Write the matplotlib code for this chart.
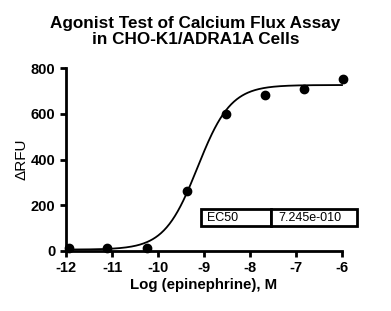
import numpy as np
import matplotlib
matplotlib.use('Agg')
import matplotlib.pyplot as plt

plt.rcParams['font.family'] = ['Liberation Sans', 'DejaVu Sans']
plt.rcParams['axes.unicode_minus'] = False

# measured points
log_conc = [-11.93, -11.1, -10.24, -9.37, -8.52, -7.67, -6.83, -5.98]
rfu = [15, 12, 15, 262, 600, 682, 708, 752]

# fit parameters (4PL)
bottom = 6
top = 726
log_ec50 = np.log10(7.245e-10)
hill = 1.2

fig = plt.figure(figsize=(3.91, 3.11), dpi=100)
ax = fig.add_axes([0.1688, 0.193, 0.7059, 0.588])

xf = np.linspace(-12, -6, 300)
yf = bottom + (top - bottom) / (1 + 10 ** ((log_ec50 - xf) * hill))
ax.plot(xf, yf, color='black', lw=1.3, clip_on=False)
ax.plot(log_conc, rfu, 'o', color='black', ms=6, clip_on=False, zorder=3)

ax.set_xlim(-12, -6)
ax.set_ylim(0, 800)
ax.set_xticks(range(-12, -5))
ax.set_yticks(range(0, 801, 200))
for s in ['top', 'right']:
    ax.spines[s].set_visible(False)
for s in ['left', 'bottom']:
    ax.spines[s].set_linewidth(2)
ax.tick_params(width=2, length=4.5, labelsize=10.5, pad=3)
for lab in ax.get_xticklabels() + ax.get_yticklabels():
    lab.set_fontweight('bold')

ax.set_xlabel('Log (epinephrine), M', fontsize=10.8, fontweight='bold', labelpad=2)
ax.set_ylabel('ΔRFU', fontsize=11, labelpad=2)
fig.suptitle('Agonist Test of Calcium Flux Assay\nin CHO-K1/ADRA1A Cells',
             fontsize=12.3, fontweight='bold', y=0.95, linespacing=1.15)

tbl = ax.table(cellText=[['EC50', '7.245e-010']], cellLoc='left',
               bbox=[(201 - 66) / 276, (251 - 226) / 183, (357 - 201) / 276, 17 / 183])
for (r, c), cell in tbl.get_celld().items():
    cell.set_linewidth(2)
    cell.get_text().set_fontsize(9)
    cell.PAD = 0.08
tbl.auto_set_font_size(False)
tbl.set_clip_on(False)
w0 = (271 - 201) / 276
w1 = (357 - 271) / 276
tbl[0, 0].set_width(w0)
tbl[0, 1].set_width(w1)

fig.savefig('out.png', dpi=100)
